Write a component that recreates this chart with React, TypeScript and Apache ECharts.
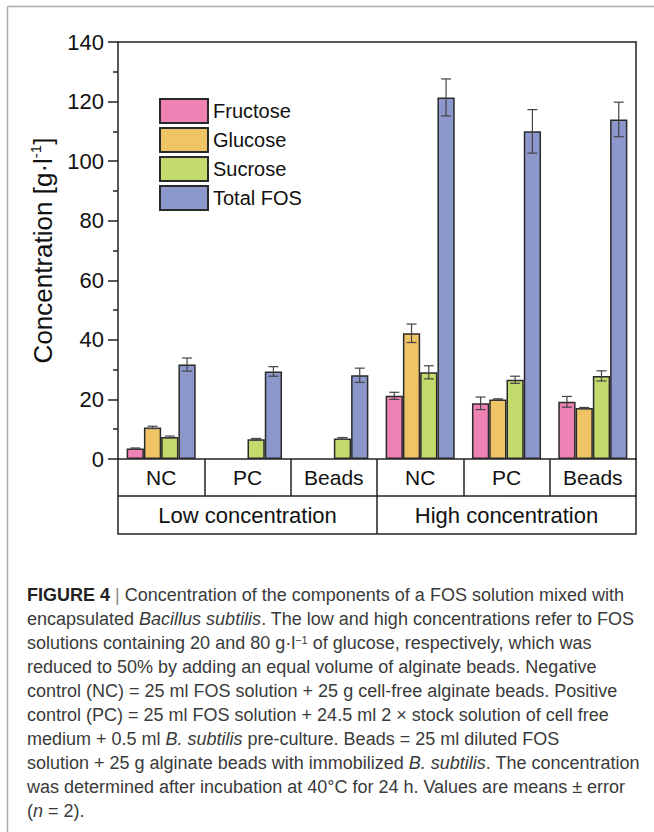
import React, { useEffect, useRef } from "react";
import * as echarts from "echarts";

const sugars = ["Fructose", "Glucose", "Sucrose", "Total FOS"];
const conditions = ["NC", "PC", "Beads"];
const levels = ["Low concentration", "High concentration"];
const categories = levels.flatMap((l) => conditions.map((c) => `${l}|${c}`));

const fructose = [3.5, null, null, 21.2, 18.7, 19.2];
const fructoseErr = [0.2, null, null, 1.2, 2.1, 1.8];
const glucose = [10.6, null, null, 42.2, 20.0, 17.1];
const glucoseErr = [0.4, null, null, 3.1, 0.2, 0.2];
const sucrose = [7.4, 6.6, 6.9, 29.1, 26.6, 27.9];
const sucroseErr = [0.3, 0.3, 0.3, 2.2, 1.2, 1.7];
const totalFOS = [31.7, 29.4, 28.1, 121.4, 110.0, 114.0];
const totalFOSErr = [2.2, 1.6, 2.4, 6.2, 7.3, 5.8];

const yTicks = { min: 0, max: 140, interval: 20 };

const colors = ["#EE82B5", "#EEC466", "#C3DA6C", "#8C97CB"];
const values = [fructose, glucose, sucrose, totalFOS];
const errors = [fructoseErr, glucoseErr, sucroseErr, totalFOSErr];

const captionLines = [
  "{b|FIGURE 4} {sep||} Concentration of the components of a FOS solution mixed with",
  "encapsulated {i|Bacillus subtilis}. The low and high concentrations refer to FOS",
  "solutions containing 20 and 80 g·l{s|−1} of glucose, respectively, which was",
  "reduced to 50% by adding an equal volume of alginate beads. Negative",
  "control (NC) = 25 ml FOS solution + 25 g cell-free alginate beads. Positive",
  "control (PC) = 25 ml FOS solution + 24.5 ml 2 × stock solution of cell free",
  "medium + 0.5 ml {i|B. subtilis} pre-culture. Beads = 25 ml diluted FOS",
  "solution + 25 g alginate beads with immobilized {i|B. subtilis}. The concentration",
  "was determined after incubation at 40°C for 24 h. Values are means ± error",
  "({i|n} = 2).",
];

const FONT = "'Liberation Sans', Arial, sans-serif";
const CAP = 18;

export default function App() {
  const ref = useRef<HTMLDivElement>(null);
  useEffect(() => {
    if (!ref.current) return;
    const chart = echarts.init(ref.current, undefined, { renderer: "svg" });

    const barSeries = sugars.map((name, si) => ({
      name,
      type: "bar",
      xAxisIndex: 0,
      yAxisIndex: 0,
      barGap: "0%",
      barCategoryGap: "20%",
      data: values[si].map((v) => (v == null ? "-" : v)),
      itemStyle: { color: colors[si], borderColor: "#2a2a2a", borderWidth: 1.5 },
      z: 2,
    }));

    const errSeries = sugars.map((name, si) => ({
      name: name + " error",
      type: "custom",
      xAxisIndex: 0,
      yAxisIndex: 0,
      z: 4,
      data: values[si]
        .map((v, i) => (v == null ? null : [i, v - (errors[si][i] as number), v + (errors[si][i] as number)]))
        .filter((d) => d != null),
      encode: { x: 0, y: [1, 2] },
      renderItem: (params: any, api: any) => {
        const x = api.value(0);
        const lo = api.value(1);
        const hi = api.value(2);
        const band = api.size([1, 0])[0];
        const bw = (band * 0.8) / 4;
        const cx = api.coord([x, 0])[0] + (si - 1.5) * bw;
        const yLo = api.coord([x, lo])[1];
        const yHi = api.coord([x, hi])[1];
        const cap = 5;
        const st = { stroke: "#444", lineWidth: 1.2 };
        return {
          type: "group",
          children: [
            { type: "line", shape: { x1: cx, y1: yLo, x2: cx, y2: yHi }, style: st },
            { type: "line", shape: { x1: cx - cap, y1: yHi, x2: cx + cap, y2: yHi }, style: st },
            { type: "line", shape: { x1: cx - cap, y1: yLo, x2: cx + cap, y2: yLo }, style: st },
          ],
        };
      },
    }));

    const axisLineStyle = { color: "#222", width: 1.5 };

    const captionGraphics = captionLines.map((t, i) => ({
      type: "text",
      left: 27,
      top: 586 + 24 * i,
      style: {
        text: t,
        fontFamily: FONT,
        fontSize: CAP,
        fill: "#3a3a3a",
        rich: {
          b: { fontFamily: FONT, fontSize: CAP, fontWeight: "bold", fill: "#222" },
          sep: { fontFamily: FONT, fontSize: CAP, fill: "#888" },
          i: { fontFamily: FONT, fontSize: CAP, fontStyle: "italic", fill: "#3a3a3a" },
          s: { fontFamily: FONT, fontSize: 11, fill: "#3a3a3a", verticalAlign: "top" },
        },
      },
    }));

    chart.setOption({
      animation: false,
      backgroundColor: "#fff",
      textStyle: { fontFamily: FONT },
      grid: { left: 118, right: 18, top: 42, bottom: 373, containLabel: false },
      legend: {
        orient: "vertical",
        left: 159,
        top: 98,
        padding: 0,
        itemWidth: 48,
        itemHeight: 24,
        itemGap: 3,
        icon: "rect",
        data: sugars,
        textStyle: { fontSize: 20, color: "#111", fontFamily: FONT },
      },
      xAxis: [
        {
          type: "category",
          data: categories,
          position: "bottom",
          axisLine: { show: true, onZero: false, lineStyle: axisLineStyle },
          axisTick: { show: true, interval: 0, length: 37, alignWithLabel: false, lineStyle: axisLineStyle },
          axisLabel: {
            interval: 0,
            margin: 0,
            lineHeight: 37,
            fontSize: 21,
            color: "#111",
            fontFamily: FONT,
            formatter: (v: string) => v.split("|")[1],
          },
        },
        {
          type: "category",
          data: levels,
          position: "bottom",
          offset: 37,
          axisLine: { show: true, onZero: false, lineStyle: axisLineStyle },
          axisTick: { show: true, interval: 0, length: 38, alignWithLabel: false, lineStyle: axisLineStyle },
          axisLabel: { interval: 0, margin: 0, lineHeight: 38, fontSize: 22, color: "#111", fontFamily: FONT },
        },
        {
          type: "category",
          data: levels,
          position: "bottom",
          offset: 75,
          axisLine: { show: true, onZero: false, lineStyle: axisLineStyle },
          axisTick: { show: false },
          axisLabel: { show: false },
        },
        {
          type: "value",
          position: "top",
          min: 0,
          max: 1,
          axisLine: { show: true, onZero: false, lineStyle: axisLineStyle },
          axisTick: { show: false },
          axisLabel: { show: false },
          splitLine: { show: false },
        },
      ],
      yAxis: [
        {
          type: "value",
          min: yTicks.min,
          max: yTicks.max,
          interval: yTicks.interval,
          axisLine: { show: true, onZero: false, lineStyle: axisLineStyle },
          axisTick: { show: true, length: 10, lineStyle: axisLineStyle },
          minorTick: { show: true, splitNumber: 2, length: 5, lineStyle: axisLineStyle },
          axisLabel: { fontSize: 22, margin: 14, color: "#111", fontFamily: FONT },
          splitLine: { show: false },
          name: "{a|Concentration [g·l}{s|-1}{a|]}",
          nameLocation: "middle",
          nameRotate: 90,
          nameGap: 58,
          nameTextStyle: {
            rich: {
              a: { fontSize: 26, color: "#111", fontFamily: FONT, lineHeight: 30 },
              s: { fontSize: 15, color: "#111", fontFamily: FONT, verticalAlign: "top" },
            },
          },
        },
        {
          type: "value",
          position: "right",
          min: 0,
          max: 1,
          axisLine: { show: true, onZero: false, lineStyle: axisLineStyle },
          axisTick: { show: false },
          axisLabel: { show: false },
          splitLine: { show: false },
        },
      ],
      series: [...barSeries, ...errSeries],
      graphic: [
        { type: "line", silent: true, shape: { x1: 7.5, y1: 6.5, x2: 654, y2: 6.5 }, style: { stroke: "#aaa", lineWidth: 1.5 } },
        { type: "line", silent: true, shape: { x1: 7.5, y1: 6.5, x2: 7.5, y2: 832 }, style: { stroke: "#aaa", lineWidth: 1.5 } },
        ...captionGraphics,
      ],
    });

    return () => chart.dispose();
  }, []);

  return (
    <div
      ref={ref}
      style={{ position: "absolute", left: 0, top: 0, width: 654, height: 832 }}
    />
  );
}
